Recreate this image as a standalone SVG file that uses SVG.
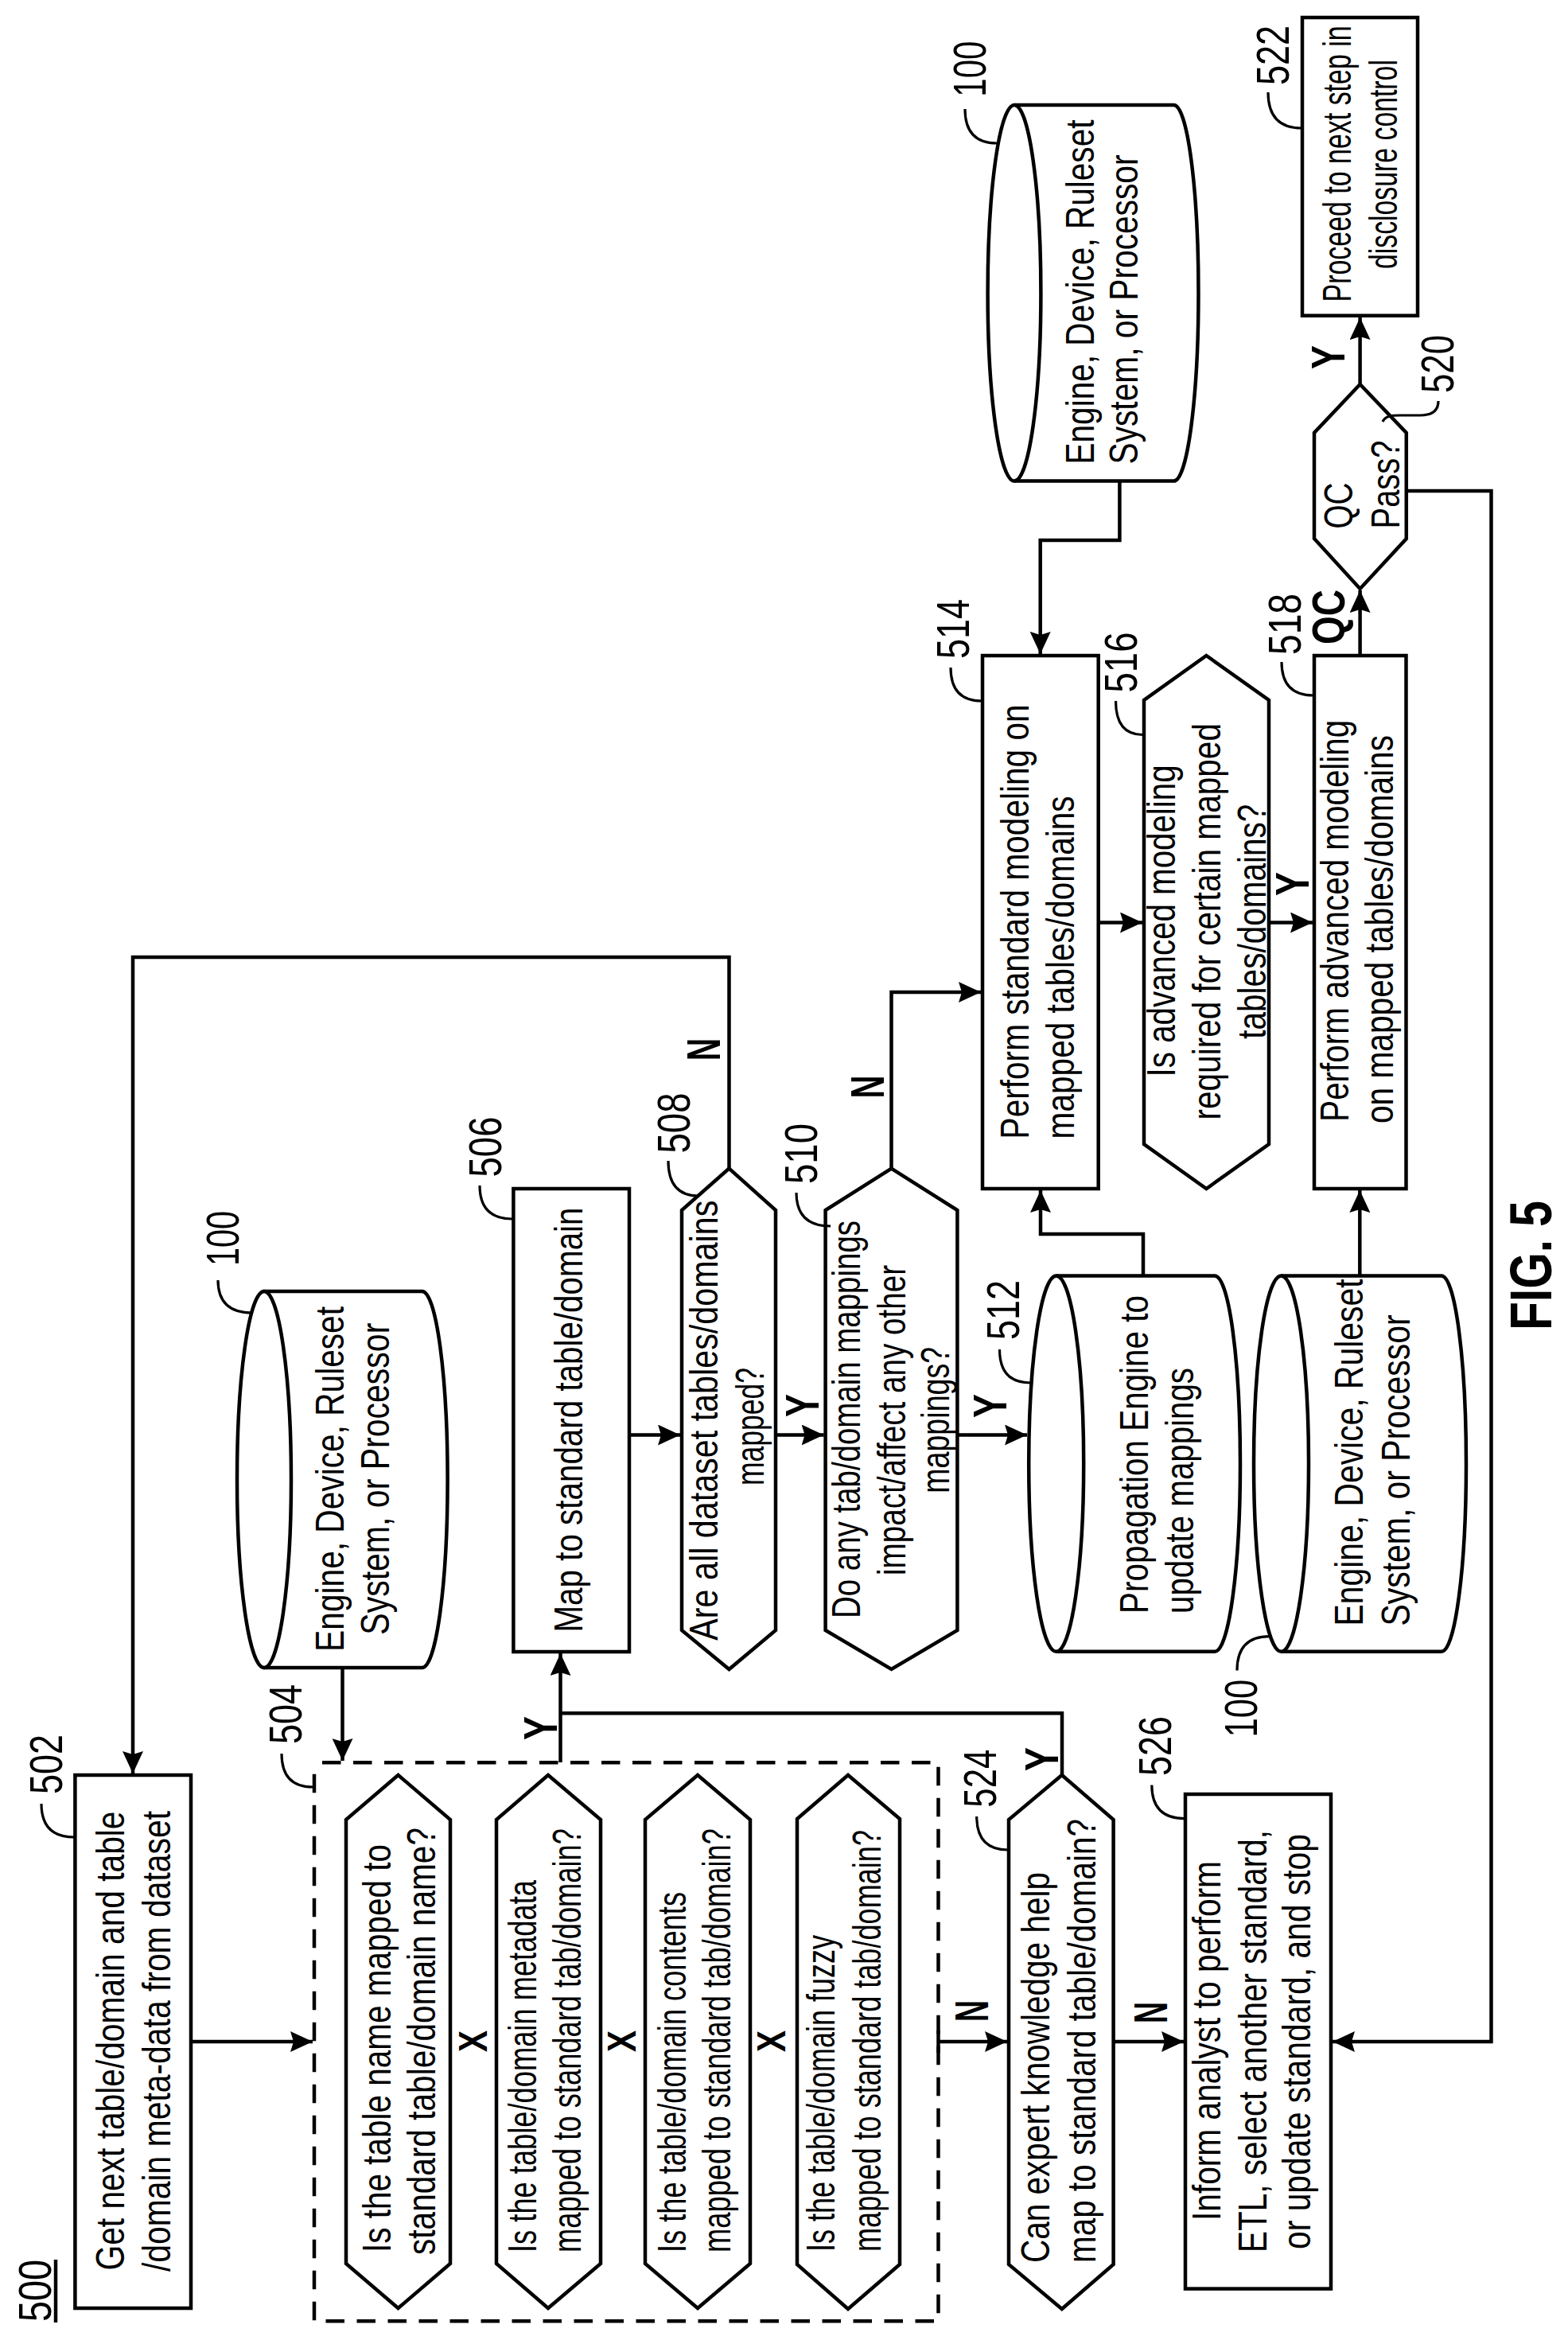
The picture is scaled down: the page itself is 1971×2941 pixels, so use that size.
<svg xmlns="http://www.w3.org/2000/svg" width="1971" height="2941" viewBox="0 0 1971 2941">
<style>
text{font-family:"Liberation Sans",Arial,sans-serif;font-size:50px;fill:#000}
.l{font-size:58px}
.b{font-weight:bold;font-size:60px}
.s{fill:#fff;stroke:#000;stroke-width:4.5;stroke-linejoin:miter}
.n{fill:none;stroke:#000;stroke-width:3.2}
.c{fill:none;stroke:#000;stroke-width:4.5;stroke-linejoin:miter}
.a{marker-end:url(#arrow)}
.d{fill:none;stroke:#000;stroke-width:4.5;stroke-dasharray:23.5 15.5;stroke-dashoffset:29}
</style>
<defs>
<marker id="arrow" markerUnits="userSpaceOnUse" markerWidth="28" markerHeight="26" viewBox="0 0 28 26" refX="28" refY="13" orient="auto"><path d="M0,0 L28,13 L0,26 L4,13 Z" fill="#000"/></marker>
</defs>
<rect width="1971" height="2941" fill="#fff"/>
<g id="connectors">
<path class="c a" d="M916.5,1469 V1203 H167 V2229"/>
<path class="c a" d="M240,2566 H393"/>
<path class="c a" d="M430.5,2096 V2213"/>
<path class="c a" d="M704.5,2215 V2078"/>
<path class="c" d="M704.5,2153.3 H1335 V2231"/>
<path class="c a" d="M791,1803.5 H855"/>
<path class="c a" d="M975,1803.5 H1035.6"/>
<path class="c a" d="M1203.4,1803.5 H1291"/>
<path class="c a" d="M1120.5,1469 V1247 H1233"/>
<path class="c a" d="M1437,1603.5 V1551 H1308 V1496"/>
<path class="c a" d="M1407.4,604.6 V679 H1307.7 V822"/>
<path class="c a" d="M1381,1159.5 H1436"/>
<path class="c a" d="M1595,1159.5 H1650"/>
<path class="c a" d="M1709.3,1603.5 V1496"/>
<path class="c a" d="M1709.6,824 V742"/>
<path class="c a" d="M1709.6,483 V399"/>
<path class="c a" d="M1767.8,617 H1874.5 V2566 H1675"/>
<path class="c a" d="M1179.5,2566 H1266"/>
<path class="c" d="M1179.5,2552 V2580"/>
<path class="c a" d="M1399.6,2566 H1488"/>
<text class="b" transform="translate(700 2187) rotate(-90)" textLength="30" lengthAdjust="spacingAndGlyphs">Y</text>
</g>
<g id="n500">
<text class="l" transform="translate(64 2918) rotate(-90)" textLength="78" lengthAdjust="spacingAndGlyphs">500</text>
<path class="c" d="M70,2840 V2919"/>
</g>
<g id="n502">
<rect class="s" x="94.4" y="2231" width="145.6" height="670"/>
<path class="n" d="M93,2309 Q52,2309 52,2267"/>
<text class="l" transform="translate(78 2255) rotate(-90)" textLength="75" lengthAdjust="spacingAndGlyphs">502</text>
<text transform="translate(156 2853.5) rotate(-90)" textLength="577" lengthAdjust="spacingAndGlyphs">Get next table/domain and table</text>
<text transform="translate(214 2855) rotate(-90)" textLength="579" lengthAdjust="spacingAndGlyphs">/domain meta-data from dataset</text>
</g>
<g id="n504">
<rect class="d" x="395" y="2215.3" width="784.5" height="702"/>
<path class="n" d="M393,2246 Q354,2246 354,2204"/>
<text class="l" transform="translate(379 2192) rotate(-90)" textLength="75" lengthAdjust="spacingAndGlyphs">504</text>
<polygon class="s" points="500.5,2231 566,2287 566,2845 500.5,2901 435,2845 435,2287"/>
<text transform="translate(491 2831) rotate(-90)" textLength="513" lengthAdjust="spacingAndGlyphs">Is the table name mapped to</text>
<text transform="translate(547 2834) rotate(-90)" textLength="537" lengthAdjust="spacingAndGlyphs">standard table/domain name?</text>
<text class="b" style="font-size:50px" transform="translate(612 2579) rotate(-90)" textLength="27" lengthAdjust="spacingAndGlyphs">X</text>
<polygon class="s" points="689,2231 755,2287 755,2845 689,2901 624,2845 624,2287"/>
<text transform="translate(674 2831) rotate(-90)" textLength="468" lengthAdjust="spacingAndGlyphs">Is the table/domain metadata</text>
<text transform="translate(730 2831) rotate(-90)" textLength="533" lengthAdjust="spacingAndGlyphs">mapped to standard tab/domain?</text>
<text class="b" style="font-size:50px" transform="translate(799 2579) rotate(-90)" textLength="27" lengthAdjust="spacingAndGlyphs">X</text>
<polygon class="s" points="877,2231 943,2287 943,2845 877,2901 811,2845 811,2287"/>
<text transform="translate(862 2831) rotate(-90)" textLength="453" lengthAdjust="spacingAndGlyphs">Is the table/domain contents</text>
<text transform="translate(918 2831) rotate(-90)" textLength="533" lengthAdjust="spacingAndGlyphs">mapped to standard tab/domain?</text>
<text class="b" style="font-size:50px" transform="translate(987 2579) rotate(-90)" textLength="27" lengthAdjust="spacingAndGlyphs">X</text>
<polygon class="s" points="1066,2231 1131,2286 1131,2846 1066,2902 1002,2846 1002,2286"/>
<text transform="translate(1049 2830) rotate(-90)" textLength="398" lengthAdjust="spacingAndGlyphs">Is the table/domain fuzzy</text>
<text transform="translate(1107 2830) rotate(-90)" textLength="530" lengthAdjust="spacingAndGlyphs">mapped to standard tab/domain?</text>
</g>
<g id="n506">
<rect class="s" x="645.4" y="1494" width="145.6" height="582"/>
<path class="n" d="M644,1532 Q603,1532 603,1490"/>
<text class="l" transform="translate(629.5 1479.5) rotate(-90)" textLength="76" lengthAdjust="spacingAndGlyphs">506</text>
<text transform="translate(731.5 2051.5) rotate(-90)" textLength="534" lengthAdjust="spacingAndGlyphs">Map to standard table/domain</text>
</g>
<g id="n508">
<polygon class="s" points="916.5,1468.6 975,1521 975,2049 916.5,2098 857,2049 857,1521"/>
<path class="n" d="M878,1503 Q840,1503 840,1459"/>
<text class="l" transform="translate(867 1449.5) rotate(-90)" textLength="76" lengthAdjust="spacingAndGlyphs">508</text>
<text transform="translate(902.4 2061.7) rotate(-90)" textLength="553" lengthAdjust="spacingAndGlyphs">Are all dataset  tables/domains</text>
<text transform="translate(960 1867) rotate(-90)" textLength="148" lengthAdjust="spacingAndGlyphs">mapped?</text>
<text class="b" transform="translate(905 1333) rotate(-90)" textLength="28" lengthAdjust="spacingAndGlyphs">N</text>
<text class="b" transform="translate(1029 1781) rotate(-90)" textLength="29" lengthAdjust="spacingAndGlyphs">Y</text>
</g>
<g id="n510">
<polygon class="s" points="1120.5,1468.6 1203.4,1521 1203.4,2049 1120.5,2098 1037.6,2049 1037.6,1521"/>
<path class="n" d="M1044,1541 Q1001,1541 1001,1499"/>
<text class="l" transform="translate(1027 1488) rotate(-90)" textLength="76" lengthAdjust="spacingAndGlyphs">510</text>
<text transform="translate(1081 2034) rotate(-90)" textLength="500" lengthAdjust="spacingAndGlyphs">Do any tab/domain mappings</text>
<text transform="translate(1137.8 1980) rotate(-90)" textLength="390" lengthAdjust="spacingAndGlyphs">impact/affect any other</text>
<text transform="translate(1192.6 1876.8) rotate(-90)" textLength="184" lengthAdjust="spacingAndGlyphs">mappings?</text>
<text class="b" transform="translate(1111 1380.6) rotate(-90)" textLength="29" lengthAdjust="spacingAndGlyphs">N</text>
<text class="b" transform="translate(1265 1782) rotate(-90)" textLength="30" lengthAdjust="spacingAndGlyphs">Y</text>
</g>
<g id="n512">
<path class="s" d="M1327.7,1603.5 H1527 A32,236 0 0 1 1527,2075.8 H1327.7"/>
<ellipse class="s" cx="1327.7" cy="1839.6" rx="34.5" ry="236.2"/>
<path class="n" d="M1295,1738 Q1256.5,1738 1256.5,1696"/>
<text class="l" transform="translate(1281 1684) rotate(-90)" textLength="75" lengthAdjust="spacingAndGlyphs">512</text>
<text transform="translate(1443 2028) rotate(-90)" textLength="400" lengthAdjust="spacingAndGlyphs">Propagation Engine to</text>
<text transform="translate(1500 2028) rotate(-90)" textLength="309" lengthAdjust="spacingAndGlyphs">update mappings</text>
</g>
<g id="n514">
<rect class="s" x="1235" y="824" width="145.7" height="670"/>
<path class="n" d="M1234,881 Q1195,881 1195,839"/>
<text class="l" transform="translate(1218 828) rotate(-90)" textLength="75" lengthAdjust="spacingAndGlyphs">514</text>
<text transform="translate(1292.5 1431.4) rotate(-90)" textLength="546" lengthAdjust="spacingAndGlyphs">Perform standard modeling on</text>
<text transform="translate(1350.4 1431.4) rotate(-90)" textLength="431" lengthAdjust="spacingAndGlyphs">mapped tables/domains</text>
</g>
<g id="n516">
<polygon class="s" points="1516.4,824 1595,880 1595,1438 1516.4,1494 1438,1438 1438,880"/>
<path class="n" d="M1436.5,923.5 Q1402.5,923.5 1402.5,881"/>
<text class="l" transform="translate(1428.5 870.5) rotate(-90)" textLength="76" lengthAdjust="spacingAndGlyphs">516</text>
<text transform="translate(1477 1353.4) rotate(-90)" textLength="392" lengthAdjust="spacingAndGlyphs">Is advanced modeling</text>
<text transform="translate(1534 1407.6) rotate(-90)" textLength="498.6" lengthAdjust="spacingAndGlyphs">required for certain mapped</text>
<text transform="translate(1591 1305.7) rotate(-90)" textLength="295" lengthAdjust="spacingAndGlyphs">tables/domains?</text>
<text class="b" transform="translate(1645 1126) rotate(-90)" textLength="30" lengthAdjust="spacingAndGlyphs">Y</text>
</g>
<g id="n518">
<rect class="s" x="1652" y="824" width="115.5" height="670"/>
<path class="n" d="M1651,874 Q1611,874 1611,832"/>
<text class="l" transform="translate(1635 823) rotate(-90)" textLength="77" lengthAdjust="spacingAndGlyphs">518</text>
<text transform="translate(1695 1409.8) rotate(-90)" textLength="505" lengthAdjust="spacingAndGlyphs">Perform advanced modeling</text>
<text transform="translate(1751 1412) rotate(-90)" textLength="488" lengthAdjust="spacingAndGlyphs">on mapped tables/domains</text>
<text class="b" style="font-size:58px" transform="translate(1690 810) rotate(-90)" textLength="69" lengthAdjust="spacingAndGlyphs">QC</text>
</g>
<g id="n520">
<polygon class="s" points="1709.6,483 1767.8,544 1767.8,677 1709.6,740 1652,677 1652,544"/>
<path class="n" d="M1738,530 C1742,522 1750,522 1760,522 L1785,522 Q1808,522 1808,504"/>
<text class="l" transform="translate(1826.6 494) rotate(-90)" textLength="73" lengthAdjust="spacingAndGlyphs">520</text>
<text transform="translate(1700 664.5) rotate(-90)" textLength="58" lengthAdjust="spacingAndGlyphs">QC</text>
<text transform="translate(1758.5 664.5) rotate(-90)" textLength="111" lengthAdjust="spacingAndGlyphs">Pass?</text>
<text class="b" transform="translate(1690 464) rotate(-90)" textLength="30" lengthAdjust="spacingAndGlyphs">Y</text>
</g>
<g id="n522">
<rect class="s" x="1637" y="22" width="145" height="374.7"/>
<path class="n" d="M1636,161 Q1594,161 1594,116"/>
<text class="l" transform="translate(1620 107) rotate(-90)" textLength="75" lengthAdjust="spacingAndGlyphs">522</text>
<text transform="translate(1698 379.5) rotate(-90) scale(0.679 1)">Proceed to next step in</text>
<text transform="translate(1756 338) rotate(-90) scale(0.676 1)">disclosure control</text>
</g>
<g id="n524">
<polygon class="s" points="1334.8,2231 1399.6,2287 1399.6,2846 1334.8,2902 1268,2846 1268,2287"/>
<path class="n" d="M1267,2325 Q1227.7,2325 1227.7,2283"/>
<text class="l" transform="translate(1252 2271.7) rotate(-90)" textLength="73" lengthAdjust="spacingAndGlyphs">524</text>
<text transform="translate(1319 2844) rotate(-90)" textLength="491" lengthAdjust="spacingAndGlyphs">Can expert knowledge help</text>
<text transform="translate(1377 2844) rotate(-90)" textLength="558" lengthAdjust="spacingAndGlyphs">map to standard table/domain?</text>
<text class="b" transform="translate(1242 2541) rotate(-90)" textLength="27" lengthAdjust="spacingAndGlyphs">N</text>
<text class="b" transform="translate(1466.5 2543) rotate(-90)" textLength="27" lengthAdjust="spacingAndGlyphs">N</text>
<text class="b" transform="translate(1330 2226) rotate(-90)" textLength="30" lengthAdjust="spacingAndGlyphs">Y</text>
</g>
<g id="n526">
<rect class="s" x="1490" y="2255" width="183" height="621.6"/>
<path class="n" d="M1489,2285.7 Q1447.8,2285.7 1447.8,2243.6"/>
<text class="l" transform="translate(1472 2232) rotate(-90)" textLength="75" lengthAdjust="spacingAndGlyphs">526</text>
<text transform="translate(1534 2791) rotate(-90)" textLength="452" lengthAdjust="spacingAndGlyphs">Inform analyst to perform</text>
<text transform="translate(1591.5 2831) rotate(-90)" textLength="531" lengthAdjust="spacingAndGlyphs">ETL, select another standard,</text>
<text transform="translate(1647 2827) rotate(-90)" textLength="522" lengthAdjust="spacingAndGlyphs">or update standard, and stop</text>
</g>
<g id="n100a">
<path class="s" d="M331,1623 H530.6 A32,236.5 0 0 1 530.6,2096 H331"/>
<ellipse class="s" cx="332" cy="1859.5" rx="34" ry="236.5"/>
<path class="n" d="M317,1650 Q274,1650 274,1609"/>
<text class="l" transform="translate(299.7 1591) rotate(-90)" textLength="69" lengthAdjust="spacingAndGlyphs">100</text>
<text transform="translate(431.8 2075.8) rotate(-90)" textLength="433.8" lengthAdjust="spacingAndGlyphs">Engine, Device, Ruleset</text>
<text transform="translate(489 2054.7) rotate(-90)" textLength="392" lengthAdjust="spacingAndGlyphs">System,  or Processor</text>
</g>
<g id="n100b">
<path class="s" d="M1275,132 H1475.5 A31,236.3 0 0 1 1475.5,604.6 H1275"/>
<ellipse class="s" cx="1275" cy="368.3" rx="33.4" ry="236.3"/>
<path class="n" d="M1253,180 Q1213,180 1213,137"/>
<text class="l" transform="translate(1239 121.7) rotate(-90)" textLength="70" lengthAdjust="spacingAndGlyphs">100</text>
<text transform="translate(1374.6 583.5) rotate(-90)" textLength="433" lengthAdjust="spacingAndGlyphs">Engine, Device, Ruleset</text>
<text transform="translate(1430 583.5) rotate(-90)" textLength="389" lengthAdjust="spacingAndGlyphs">System, or Processor</text>
</g>
<g id="n100c">
<path class="s" d="M1610.5,1603.5 H1812 A31,236 0 0 1 1812,2075.8 H1610.5"/>
<ellipse class="s" cx="1610.5" cy="1839.6" rx="34.5" ry="236.2"/>
<path class="n" d="M1596,2056.7 Q1555,2056.7 1555,2099.4"/>
<text class="l" transform="translate(1580 2183.6) rotate(-90)" textLength="73" lengthAdjust="spacingAndGlyphs">100</text>
<text transform="translate(1712.8 2043.5) rotate(-90)" textLength="436" lengthAdjust="spacingAndGlyphs">Engine, Device, Ruleset</text>
<text transform="translate(1771.8 2043.5) rotate(-90)" textLength="391" lengthAdjust="spacingAndGlyphs">System, or Processor</text>
</g>
<g id="fig">
<text class="b" style="font-size:75px" transform="translate(1950 1672) rotate(-90)" textLength="163" lengthAdjust="spacingAndGlyphs">FIG. 5</text>
</g>
</svg>
